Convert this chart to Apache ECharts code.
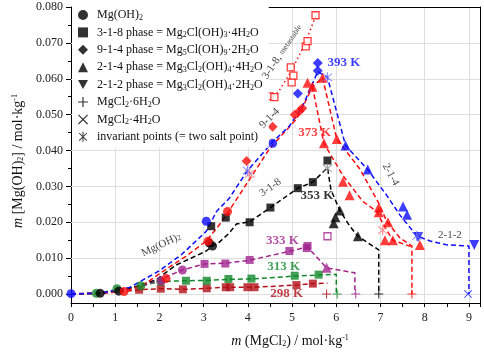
<!DOCTYPE html>
<html>
<head>
<meta charset="utf-8">
<script src="https://cdn.jsdelivr.net/npm/echarts@6/dist/echarts.min.js"></script>
<style>
  html, body { margin: 0; padding: 0; background: #fff; }
  #chart { width: 484px; height: 353px; }
</style>
</head>
<body>
<div id="chart"></div>
<script>
// axis ticks
const xTicks = [0, 1, 2, 3, 4, 5, 6, 7, 8, 9];
const yTicks = [0, 0.01, 0.02, 0.03, 0.04, 0.05, 0.06, 0.07, 0.08];
const yMinor = [0.005, 0.015, 0.025, 0.035, 0.045, 0.055, 0.065, 0.075];
const yGrid = [0, 0.01, 0.02, 0.03, 0.04, 0.05, 0.06, 0.07];

// 298 K
const line298 = [[0,0],[0.6,0.0002],[1.2,0.0007],[1.54,0.0012],[2.03,0.0015],[2.53,0.0013],[3.07,0.0016],[3.54,0.0019],[3.99,0.0019],[4.15,0.0019],[5.1,0.0025],[5.47,0.0029],[5.8,0.003]];
const sq298 = [[1.54,0.0012],[2.03,0.0015],[2.53,0.0013],[3.07,0.0016],[3.5,0.0019],[3.6,0.0019],[3.99,0.0019],[4.15,0.0019],[5.1,0.0025],[5.47,0.0029]];
const plus298 = [[5.78,0]];

// 313 K
const line313 = [[0,0],[0.57,0.0002],[1.04,0.0012],[1.58,0.0023],[2.03,0.0035],[2.6,0.0037],[3.07,0.0038],[3.56,0.0041],[4.08,0.0042],[5.06,0.005],[5.6,0.0053],[6.0,0.0055],[6.0,0]];
const circ313 = [[0.57,0.0002],[1.04,0.0015],[1.58,0.0023],[2.03,0.0035]];
const sq313 = [[2.6,0.0037],[3.07,0.0037],[3.56,0.0042],[4.08,0.0043],[5.06,0.0051],[5.6,0.0054]];
const plus313 = [[6.02,0]];

// 333 K
const line333 = [[0,0],[1.0,0.0008],[1.6,0.0022],[2.0,0.004],[2.52,0.0067],[3.02,0.0084],[3.49,0.0086],[4.04,0.0094],[4.94,0.0119],[5.35,0.0131],[5.78,0.0073],[6.42,0.0059],[6.42,0]];
const circ333 = [[2.04,0.0037],[2.52,0.0067]];
const sq333 = [[3.02,0.0084],[3.49,0.0085],[4.04,0.0095],[4.94,0.012],[5.33,0.0128],[5.35,0.0134]];
const open333 = [[5.8,0.0161]];
const tri333 = [[5.78,0.0073]];
const plus333 = [[6.44,0]];

// 353 K
const line353 = [[0,0],[0.66,0.0002],[1.08,0.0008],[1.5,0.0022],[1.93,0.004],[2.38,0.0081],[3.06,0.012],[3.2,0.0134],[3.36,0.0145],[3.58,0.017],[3.74,0.0195],[4.04,0.0201],[4.51,0.0241],[5.13,0.0295],[5.47,0.0312],[5.8,0.0352],[5.88,0.029],[6.08,0.0233],[6.3,0.019],[6.49,0.0161],[6.96,0.0123],[6.96,0]];
const circ353 = [[0.66,0.0002],[1.08,0.0008],[3.13,0.0142],[3.2,0.0134]];
const sq353 = [[3.17,0.0189],[3.5,0.0213],[4.04,0.02],[4.51,0.0241],[5.13,0.0295],[5.47,0.0312],[5.8,0.0372]];
const tri353 = [[5.94,0.0197],[5.98,0.0214],[6.08,0.0233],[6.49,0.0161]];
const star353 = [[5.8,0.035]];
const plus353 = [[6.96,0]];

// 373 K
const line373 = [[0,0],[0.6,0.0002],[1.2,0.0008],[1.61,0.0023],[2.22,0.0075],[2.6,0.0105],[3.06,0.0148],[3.42,0.0203],[4.04,0.032],[4.49,0.0405],[5.1,0.0488],[5.23,0.0518],[5.46,0.0578],[5.69,0.0603]];
const line373a = [[5.46,0.0578],[5.72,0.042],[6.15,0.033],[6.6,0.0258],[6.92,0.023],[7.05,0.0197],[7.28,0.015],[7.71,0.0131]];
const line373b = [[5.69,0.0603],[6.01,0.0432],[6.53,0.0349],[6.94,0.0258],[7.14,0.0203],[7.44,0.0156],[7.71,0.0134],[7.71,0]];
const line373m = [[4.35,0.0525],[4.7,0.0565],[5.0,0.0625],[5.3,0.07],[5.55,0.078]];
const circ373 = [[1.2,0.0007],[2.15,0.0043],[3.1,0.0147],[3.54,0.023]];
const dia373 = [[3.97,0.0371],[4.56,0.0466],[5.06,0.05],[5.17,0.051],[5.23,0.0518]];
const open373 = [[4.49,0.0551],[4.6,0.0549],[4.99,0.059],[5.03,0.0609],[4.97,0.0632],[5.31,0.069],[5.35,0.0705],[5.53,0.0777]];
const tri373 = [[5.35,0.0589],[5.46,0.0578],[5.69,0.0603],[5.72,0.042],[6.01,0.0432],[6.15,0.0313],[6.3,0.0275],[6.96,0.0241],[6.96,0.0228],[7.17,0.02],[7.1,0.015],[7.28,0.015],[7.89,0.0137]];
const star373 = [[4.04,0.0335],[7.05,0.0178]];
const plus373 = [[7.71,0]];

// 393 K
const line393 = [[0,0],[0.6,0.0002],[1.0,0.001],[1.32,0.0018],[2.0,0.0065],[2.5,0.011],[3.06,0.0175],[3.29,0.023],[3.58,0.0267],[3.99,0.0344],[4.56,0.0424],[4.94,0.0468],[5.24,0.0524],[5.58,0.062],[5.8,0.0604],[6.21,0.0414],[6.71,0.0347],[7.14,0.0275],[7.44,0.022],[7.82,0.0162],[8.12,0.0148],[8.5,0.0137],[9.0,0.0134],[9.0,0]];
const circ393 = [[0,0.0001],[3.06,0.0203],[4.56,0.042]];
const dia393 = [[5.13,0.0559],[5.58,0.0622],[5.58,0.0644]];
const tri393 = [[6.21,0.0414],[6.71,0.0347],[7.51,0.0244],[7.6,0.0221]];
const inv393 = [[7.85,0.0159],[9.12,0.0137]];
const star393 = [[3.99,0.0344],[5.8,0.0604],[7.82,0.0162]];
const cross393 = [[8.98,0]];

// annotations: [x, y, text]
const tempNotes = [[6.17,0.0644,'393 K'],[5.51,0.0451,'373 K'],[5.56,0.0275,'353 K'],[4.78,0.015,'333 K'],[4.81,0.0076,'313 K'],[4.88,0.0,'298 K']];
const phaseNotes = [[4.78,0.0675,'3-1-8, {m|metastable}'],[4.49,0.049,'9-1-4'],[4.51,0.0297,'3-1-8'],[2.04,0.0137,'Mg(OH){s|2}'],[7.23,0.0333,'2-1-4'],[8.57,0.0164,'2-1-2']];

const legendNames = ['Mg(OH)2', '3-1-8', '9-1-4', '2-1-4', '2-1-2', 'MgCl2·6H2O', 'MgCl2·4H2O', 'invariant'];
const legendTexts = [
  'Mg(OH){s|2}',
  '3-1-8 phase = Mg{s|2}Cl(OH){s|3}·4H{s|2}O',
  '9-1-4 phase = Mg{s|5}Cl(OH){s|9}·2H{s|2}O',
  '2-1-4 phase = Mg{s|3}Cl{s|2}(OH){s|4}·4H{s|2}O',
  '2-1-2 phase = Mg{s|3}Cl{s|2}(OH){s|4}·2H{s|2}O',
  'MgCl{s|2}·6H{s|2}O',
  'MgCl{s|2}·4H{s|2}O',
  'invariant points (= two salt point)'
];

const FONT = '"Liberation Serif", "DejaVu Serif", serif';
const C = { t298: '#b20f17', t313: '#12882a', t333: '#a0238e', t353: '#000000', t373: '#ff0d0d', t393: '#0d0dff' };

const SYM = {
  circle: 'circle',
  square: 'rect',
  diamond: 'diamond',
  tri: 'triangle',
  inv: 'path://M0,0L10,0L5,9Z',
  plus: 'path://M-0.6,-5H0.6V-0.6H5V0.6H0.6V5H-0.6V0.6H-5V-0.6H-0.6Z',
  cross: 'path://M-5,-4.2L-4.2,-5L5,4.2L4.2,5ZM4.2,-5L5,-4.2L-4.2,5L-5,4.2Z',
  star: 'path://M-0.6,-6H0.6V6H-0.6ZM-5,-4.2L-4.2,-5L5,4.2L4.2,5ZM4.2,-5L5,-4.2L-4.2,5L-5,4.2Z'
};
const legendSyms = [SYM.circle, SYM.square, SYM.diamond, SYM.tri, SYM.inv, SYM.plus, SYM.cross, SYM.star];

const subRich = {
  s: { fontFamily: FONT, fontSize: 8, lineHeight: 8, verticalAlign: 'bottom' },
  p: { fontFamily: FONT, fontSize: 8, lineHeight: 8, verticalAlign: 'top' },
  i: { fontFamily: FONT, fontSize: 14, fontStyle: 'italic' },
  m: { fontFamily: FONT, fontSize: 8 }
};

function curve(data, color, dash) {
  return {
    type: 'line', data: data, symbol: 'none', silent: true, z: 2,
    lineStyle: { color: color, width: 1.5, type: dash || [5, 3] }
  };
}
function pts(data, symbol, color, size, hollow) {
  return {
    type: 'scatter', data: data, symbol: symbol, symbolSize: size, silent: true, z: 3,
    itemStyle: hollow ? { color: '#fff', borderColor: color, borderWidth: 1.3 } : { color: color }
  };
}

const series = [
  // horizontal grid lines
  {
    type: 'line', data: [], silent: true,
    markLine: {
      z: 1, silent: true, symbol: 'none', label: { show: false },
      lineStyle: { color: '#dedede', type: 'solid', width: 1 },
      data: yGrid.map(v => ({ yAxis: v }))
    }
  },
  curve(line298, C.t298), curve(line313, C.t313), curve(line333, C.t333),
  curve(line353, C.t353), curve(line373, C.t373), curve(line373a, C.t373),
  curve(line373b, C.t373), curve(line373m, C.t373, [1.5, 3]), curve(line393, C.t393),

  pts(sq298, SYM.square, C.t298, 8), pts(plus298, SYM.plus, C.t298, 9),
  pts(circ313, SYM.circle, C.t313, 9), pts(sq313, SYM.square, C.t313, 8), pts(plus313, SYM.plus, C.t313, 9),
  pts(circ333, SYM.circle, C.t333, 9), pts(sq333, SYM.square, C.t333, 8), pts(open333, SYM.square, C.t333, 7, true),
  pts(tri333, SYM.tri, C.t333, 10), pts(plus333, SYM.plus, C.t333, 9),
  pts(circ353, SYM.circle, C.t353, 9), pts(sq353, SYM.square, C.t353, 8), pts(tri353, SYM.tri, C.t353, 10),
  pts(star353, SYM.star, '#888', 10), pts(plus353, SYM.plus, C.t353, 9),
  pts(circ373, SYM.circle, C.t373, 9), pts(dia373, SYM.diamond, C.t373, 10), pts(open373, SYM.square, C.t373, 7, true),
  pts(tri373, SYM.tri, C.t373, 10), pts(star373, SYM.star, '#ff6f6f', 10), pts(plus373, SYM.plus, C.t373, 9),
  pts(circ393, SYM.circle, C.t393, 9), pts(dia393, SYM.diamond, C.t393, 10), pts(tri393, SYM.tri, C.t393, 10),
  pts(inv393, SYM.inv, C.t393, 10), pts(star393, SYM.star, '#6f6fff', 10), pts(cross393, SYM.cross, C.t393, 8),

  // text labels placed at data coordinates
  {
    type: 'scatter', symbolSize: 1, silent: true, z: 5, itemStyle: { color: 'transparent' },
    data: tempNotes.map((n, i) => ({
      value: [n[0], n[1]],
      label: {
        show: true, position: 'inside', formatter: n[2], fontFamily: FONT, fontSize: 13, fontWeight: 'bold',
        color: [C.t393, C.t373, C.t353, C.t333, C.t313, C.t298][i]
      }
    }))
  },
  {
    type: 'scatter', symbolSize: 1, silent: true, z: 5, itemStyle: { color: 'transparent' },
    data: phaseNotes.map((n, i) => ({
      value: [n[0], n[1]],
      label: {
        show: true, position: 'inside', formatter: n[2], fontFamily: FONT, fontSize: 11, color: '#111',
        rotate: [56, 45, 35, 25, -62, 0][i], rich: subRich
      }
    }))
  }
];

// legend-only series (black symbols)
legendNames.forEach((name, i) => {
  series.push({ type: 'scatter', name: name, data: [], symbol: legendSyms[i], itemStyle: { color: '#000' } });
});

const axisFont = { fontFamily: FONT, fontSize: 12, color: '#222' };

const option = {
  animation: false,
  backgroundColor: '#fff',
  grid: { left: 71, right: 4, top: 7, bottom: 48 },
  legend: {
    orient: 'vertical', left: 72, top: 7,
    padding: [1, 6, 4, 6], itemGap: 3.4, itemWidth: 10, itemHeight: 10,
    backgroundColor: '#fff', selectedMode: false,
    data: legendNames.map((n, i) => ({ name: n, icon: legendSyms[i] })),
    formatter: name => legendTexts[legendNames.indexOf(name)],
    textStyle: { fontFamily: FONT, fontSize: 12, color: '#111', lineHeight: 14, padding: [0, 0, 0, 4], rich: subRich }
  },
  xAxis: [
    {
      type: 'value', min: 0, max: 9.25, interval: 1,
      name: '{i|m} (MgCl{s|2}) / mol·kg{p|-1}', nameLocation: 'middle', nameGap: 31,
      nameTextStyle: { fontFamily: FONT, fontSize: 14, color: '#111', padding: [0, 0, 0, 29], rich: subRich },
      axisLine: { onZero: false, lineStyle: { color: '#000', width: 1 } },
      axisTick: { length: 4, lineStyle: { color: '#000' } },
      minorTick: { show: true, splitNumber: 2, length: 4, lineStyle: { color: '#000' } },
      splitLine: { show: true, lineStyle: { color: '#dedede' } },
      axisLabel: Object.assign({ margin: 9, formatter: v => xTicks.includes(v) ? String(v) : '' }, axisFont)
    },
    {
      type: 'value', position: 'top', min: 0, max: 9.25, interval: 1,
      axisLine: { show: true, onZero: false, lineStyle: { color: '#000' } },
      axisTick: { show: false }, axisLabel: { show: false }, splitLine: { show: false }
    }
  ],
  yAxis: [
    {
      type: 'value', min: -0.0025, max: 0.08,
      name: '{i|m} [Mg(OH){s|2}] / mol·kg{p|-1}', nameLocation: 'middle', nameGap: 45,
      nameTextStyle: { fontFamily: FONT, fontSize: 14, color: '#111', padding: [0, 12, 0, 0], rich: subRich },
      axisLine: { show: true, onZero: false, lineStyle: { color: '#000', width: 1 } },
      axisTick: { show: true, length: 5, customValues: yTicks, lineStyle: { color: '#000' } },
      splitLine: { show: false },
      axisLabel: Object.assign({ margin: 8, customValues: yTicks, formatter: v => v.toFixed(3) }, axisFont)
    },
    {
      type: 'value', position: 'right', min: -0.0025, max: 0.08,
      axisLine: { show: true, onZero: false, lineStyle: { color: '#000' } },
      axisTick: { show: false }, axisLabel: { show: false }, splitLine: { show: false }
    },
    {
      type: 'value', position: 'left', min: -0.0025, max: 0.08,
      axisLine: { show: false, onZero: false },
      axisTick: { show: true, length: 3, customValues: yMinor, lineStyle: { color: '#000' } },
      axisLabel: { show: false, customValues: yMinor }, splitLine: { show: false }
    }
  ],
  series: series
};

const chart = echarts.init(document.getElementById('chart'), null, { renderer: 'canvas' });
chart.setOption(option);
</script>
</body>
</html>
